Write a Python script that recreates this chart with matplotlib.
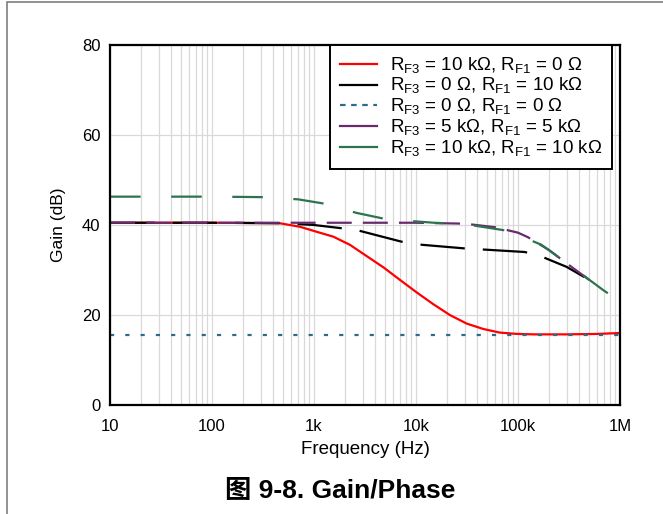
import matplotlib
matplotlib.use("Agg")
import matplotlib.pyplot as plt
from matplotlib.patches import Rectangle
from matplotlib.lines import Line2D
from matplotlib.ticker import FixedLocator, LogLocator, NullFormatter

plt.rcParams['font.family'] = ['Liberation Sans', 'Noto Sans CJK SC', 'DejaVu Sans']
plt.rcParams['mathtext.fontset'] = 'custom'
plt.rcParams['mathtext.rm'] = 'Liberation Sans'
plt.rcParams['lines.scale_dashes'] = False

# data (frequency in Hz, gain in dB)
red_f = [10, 100, 460, 730, 1060, 1550, 2250, 3280, 4790, 6970, 10200, 14800,
         21500, 31400, 45700, 66100, 97700, 141000, 300000, 600000, 1000000]
red_g = [40.5, 40.5, 40.4, 39.6, 38.5, 37.4, 35.6, 33.1, 30.6, 27.8, 25.0, 22.4,
         20.0, 18.1, 16.9, 16.1, 15.8, 15.7, 15.7, 15.8, 16.0]

black_f = [10, 100, 500, 1000, 2600, 7200, 11500, 30000, 117000, 170000, 300000, 500000]
black_g = [40.5, 40.5, 40.4, 40.0, 38.9, 36.3, 35.6, 34.8, 34.0, 33.0, 30.7, 27.8]

blue_f = [10, 100, 1000, 10000, 100000, 1000000]
blue_g = [15.6, 15.6, 15.6, 15.6, 15.6, 15.6]

purple_f = [10, 100, 1000, 10000, 30000, 60000, 100000, 125000, 200000, 300000, 500000]
purple_g = [40.5, 40.5, 40.5, 40.5, 40.3, 39.5, 38.3, 37.3, 34.5, 31.5, 27.8]

green_f = [10, 100, 300, 700, 1300, 2600, 5100, 15000, 30000, 80000, 170000,
           320000, 680000, 1000000]
green_g = [46.3, 46.3, 46.2, 45.7, 44.7, 42.7, 41.3, 40.5, 40.2, 38.7, 35.6,
           31.1, 25.6, 23.0]

labels = [r'R$_{\mathrm{F3}}$ = 10 kΩ, R$_{\mathrm{F1}}$ = 0 Ω',
          r'R$_{\mathrm{F3}}$ = 0 Ω, R$_{\mathrm{F1}}$ = 10 kΩ',
          r'R$_{\mathrm{F3}}$ = 0 Ω, R$_{\mathrm{F1}}$ = 0 Ω',
          r'R$_{\mathrm{F3}}$ = 5 kΩ, R$_{\mathrm{F1}}$ = 5 kΩ',
          r'R$_{\mathrm{F3}}$ = 10 kΩ, R$_{\mathrm{F1}}$ = 10 kΩ']

xticks = [10, 100, 1000, 10000, 100000, 1000000]
xtick_labels = ['10', '100', '1k', '10k', '100k', '1M']
yticks = [0, 20, 40, 60, 80]

fig = plt.figure(figsize=(6.63, 5.14), dpi=100)
ax = fig.add_axes([0.166, 0.212, 0.769, 0.7005])

# outer gray frame
fig.patches.append(Rectangle((0.0106, -0.5), 2.0, 1.4965, transform=fig.transFigure,
                             fill=False, edgecolor='#7f7f7f', linewidth=1.2))

lw = 1.6
ax.plot(red_f, red_g, color='#ff0000', lw=lw)
ax.plot(black_f, black_g, color='black', lw=lw, linestyle=(0, (32, 13)))
ax.plot(blue_f, blue_g, color='#2f6a8c', lw=lw, linestyle=(0, (3, 8)))
ax.plot(purple_f, purple_g, color='#672c6b', lw=lw, linestyle=(0, (18, 8)))
ax.plot(green_f, green_g, color='#2e7350', lw=lw, linestyle=(0, (22, 22)))

ax.set_xscale('log')
ax.set_xlim(10, 1e6)
ax.set_ylim(0, 80)
ax.xaxis.set_major_locator(FixedLocator(xticks))
ax.set_xticklabels(xtick_labels)
ax.xaxis.set_minor_locator(LogLocator(base=10, subs=range(2, 10)))
ax.xaxis.set_minor_formatter(NullFormatter())
ax.set_yticks(yticks)
ax.tick_params(axis='both', which='both', length=0, labelsize=12)
ax.tick_params(axis='x', pad=10)
ax.tick_params(axis='y', pad=7)
ax.grid(True, which='major', color='#d9d9d9', lw=0.9)
ax.grid(True, which='minor', axis='x', color='#d9d9d9', lw=0.9)
ax.set_axisbelow(True)
for s in ax.spines.values():
    s.set_linewidth(1.6)

ax.set_xlabel('Frequency (Hz)', fontsize=13.5, labelpad=5)
ax.set_ylabel('Gain (dB)', fontsize=12.5, labelpad=11)

# legend shows solid lines for the overlapping curves
handles = [Line2D([], [], color='#ff0000', lw=lw),
           Line2D([], [], color='black', lw=lw),
           Line2D([], [], color='#2f6a8c', lw=lw, linestyle=(0, (4, 4))),
           Line2D([], [], color='#672c6b', lw=lw),
           Line2D([], [], color='#2e7350', lw=lw)]
leg = ax.legend(handles, labels, loc='upper right', bbox_to_anchor=(0.985, 1.0),
                borderaxespad=0, fontsize=13.5, fancybox=False, framealpha=1,
                edgecolor='black', handlelength=2.0, labelspacing=0.03,
                borderpad=0.55, handletextpad=0.65)
leg.get_frame().set_linewidth(1.4)

fig.text(0.513, 0.045, '图 9-8. Gain/Phase', ha='center', va='center',
         fontsize=19, fontweight='bold')

fig.savefig('out.png', dpi=100)
